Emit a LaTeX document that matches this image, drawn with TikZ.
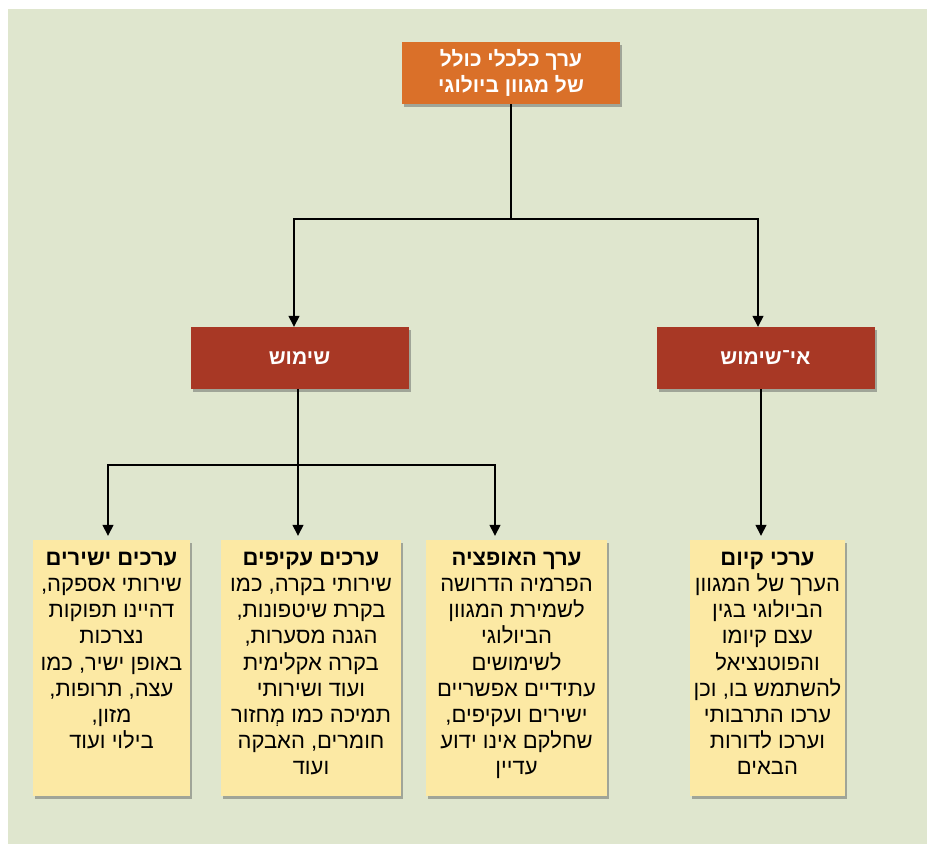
\documentclass[tikz,border=0pt]{standalone}
\usepackage{fontspec}
\newfontfamily\hebfont[Script=Hebrew]{Liberation Sans}
\TeXXeTstate=1
\usetikzlibrary{arrows.meta,shadows}
\definecolor{bggreen}{RGB}{223,230,206}
\definecolor{toporange}{RGB}{218,112,41}
\definecolor{headred}{RGB}{168,56,37}
\definecolor{notepaper}{RGB}{252,233,164}
\definecolor{shadegray}{RGB}{160,165,152}
\newcommand{\heb}[1]{\beginR#1\endR}

\begin{document}
\begin{tikzpicture}[
  x=1pt, y=-1pt,
  boxshade/.style={drop shadow={shadow xshift=2pt, shadow yshift=-3pt,
                   fill=shadegray, opacity=1}},
  head/.style={boxshade, inner sep=0pt, minimum width=218pt, minimum height=62pt,
               align=center, text=white, font=\hebfont\bfseries\fontsize{21}{26}\selectfont},
  root/.style={head, fill=toporange},
  branch/.style={head, fill=headred},
  note/.style={boxshade, fill=notepaper, inner sep=0pt, minimum height=256pt},
  notetext/.style={anchor=north, align=center, inner sep=0pt,
                   font=\hebfont\fontsize{22}{26.2}\selectfont},
  link/.style={draw, line width=1.4pt, -{Triangle[length=11pt, width=11pt]}}
]
\useasboundingbox (0,0) rectangle (927,844);
\fill[bggreen] (8,9) rectangle (927,844);

% top of the tree
\node[root] (total) at (511,73) {\heb{ערך כלכלי כולל}\\\heb{של מגוון ביולוגי}};
\node[branch] (use) at (299.5,358) {\heb{שימוש}};
\node[branch] (nonuse) at (765.5,358) {\heb{אי־שימוש}};

% value boxes
\node[note, minimum width=157pt] (direct) at (111.5,668) {};
\node[note, minimum width=180pt] (indirect) at (311,668) {};
\node[note, minimum width=181pt] (option) at (516.5,668) {};
\node[note, minimum width=155pt] (existence) at (767.5,668) {};

\node[notetext] (directtext) at ([yshift=-12pt]direct.north)
  {\textbf{\heb{ערכים ישירים}}\\\heb{שירותי אספקה,}\\\heb{דהיינו תפוקות}\\\heb{נצרכות}\\
   \heb{באופן ישיר, כמו}\\\heb{עצה, תרופות,}\\\heb{מזון,}\\\heb{בילוי ועוד}};
\node[notetext] (indirecttext) at ([yshift=-12pt]indirect.north)
  {\textbf{\heb{ערכים עקיפים}}\\\heb{שירותי בקרה, כמו}\\\heb{בקרת שיטפונות,}\\\heb{הגנה מסערות,}\\
   \heb{בקרה אקלימית}\\\heb{ועוד ושירותי}\\\heb{תמיכה כמו מְחזור}\\\heb{חומרים, האבקה}\\\heb{ועוד}};
\node[notetext] (optiontext) at ([yshift=-12pt]option.north)
  {\textbf{\heb{ערך האופציה}}\\\heb{הפרמיה הדרושה}\\\heb{לשמירת המגוון}\\\heb{הביולוגי}\\
   \heb{לשימושים}\\\heb{עתידיים אפשריים}\\\heb{ישירים ועקיפים,}\\\heb{שחלקם אינו ידוע}\\\heb{עדיין}};
\node[notetext] (existencetext) at ([yshift=-12pt]existence.north)
  {\textbf{\heb{ערכי קיום}}\\\heb{הערך של המגוון}\\\heb{הביולוגי בגין}\\\heb{עצם קיומו}\\
   \heb{והפוטנציאל}\\\heb{להשתמש בו, וכן}\\\heb{ערכו התרבותי}\\\heb{וערכו לדורות}\\\heb{הבאים}};

% connectors
\coordinate (topfork) at (511,219);
\coordinate (usefork) at (298,465);
\draw[line width=1.4pt] (total.south) -- (topfork);
\draw[link] (topfork) -| ([xshift=-5.5pt]use.north);
\draw[link] (topfork) -| ([xshift=-7.5pt]nonuse.north);
\draw[link, shorten >=4pt] ([xshift=-1.5pt]use.south) -- ([xshift=-13pt]indirect.north);
\draw[link, shorten >=4pt] (usefork) -| ([xshift=-3.5pt]direct.north);
\draw[link, shorten >=4pt] (usefork) -| ([xshift=-21.5pt]option.north);
\draw[link, shorten >=4pt] ([xshift=-4.5pt]nonuse.south) -- ([xshift=-6.5pt]existence.north);
\end{tikzpicture}
\end{document}
